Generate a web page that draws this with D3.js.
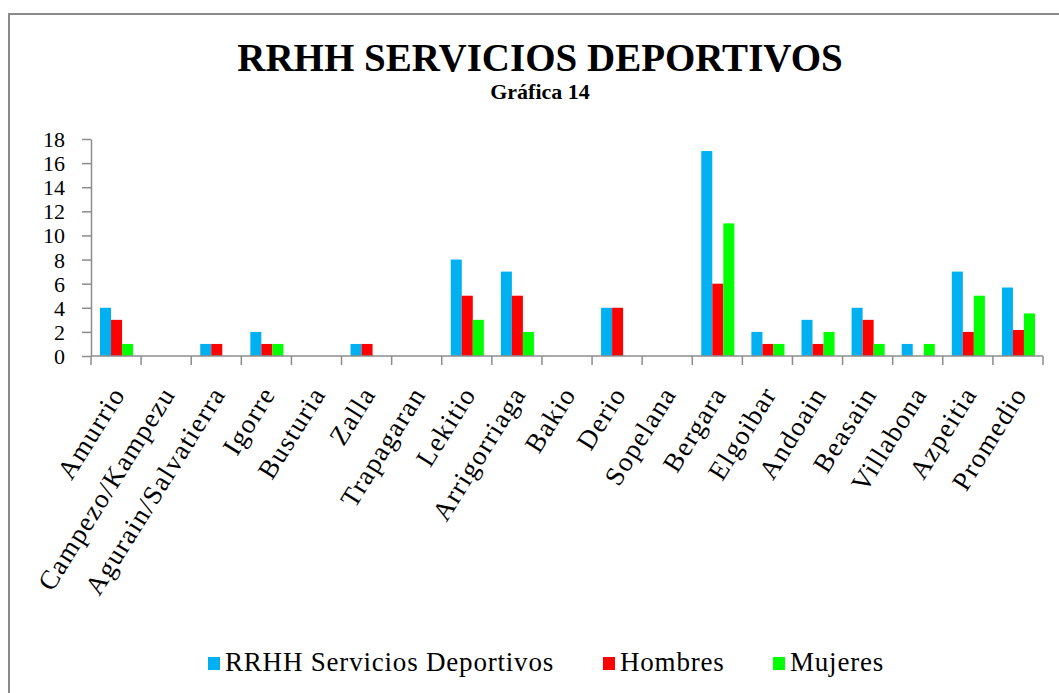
<!DOCTYPE html>
<html>
<head>
<meta charset="utf-8">
<script src="https://cdn.jsdelivr.net/npm/d3@7"></script>
<style>
  html, body { margin: 0; padding: 0; background: #fff; }
  svg { display: block; }
</style>
</head>
<body>
<svg id="chart" width="1059" height="693"></svg>
<script>
const categories = ["Amurrio", "Campezo/Kampezu", "Agurain/Salvatierra", "Igorre", "Busturia", "Zalla", "Trapagaran", "Lekitio", "Arrigorriaga", "Bakio", "Derio", "Sopelana", "Bergara", "Elgoibar", "Andoain", "Beasain", "Villabona", "Azpeitia", "Promedio"];
const seriesNames = ["RRHH Servicios Deportivos", "Hombres", "Mujeres"];
const rrhh    = [4, 0, 1, 2, 0, 1, 0, 8, 7, 0, 4, 0, 17, 2, 3, 4, 1, 7, 5.68];
const hombres = [3, 0, 1, 1, 0, 1, 0, 5, 5, 0, 4, 0, 6, 1, 1, 3, 0, 2, 2.16];
const mujeres = [1, 0, 0, 1, 0, 0, 0, 3, 2, 0, 0, 0, 11, 1, 2, 1, 1, 5, 3.53];
const yTicks = [0, 2, 4, 6, 8, 10, 12, 14, 16, 18];
const colors = ["#00B0F0", "#FF0000", "#00FF00"];
const titleText = "RRHH SERVICIOS DEPORTIVOS";
const subtitleText = "Gráfica 14";

const SERIF = "'Liberation Serif', 'Times New Roman', serif";
const svg = d3.select("#chart");
const plotL = 91, plotR = 1043, plotT = 139, plotB = 356;

// frame
svg.append("rect").attr("x", 9).attr("y", 14).attr("width", 1100).attr("height", 700)
  .attr("fill", "none").attr("stroke", "#8a8a8a").attr("stroke-width", 2);

// titles
svg.append("text").attr("x", 540).attr("y", 71).attr("text-anchor", "middle")
  .style("font-family", SERIF).style("font-size", "39px").style("font-weight", "bold").text(titleText);
svg.append("text").attr("x", 540).attr("y", 99).attr("text-anchor", "middle")
  .style("font-family", SERIF).style("font-size", "22px").style("font-weight", "bold").text(subtitleText);

const x0 = d3.scaleBand().domain(categories).range([plotL, plotR]).padding(0);
const bw = x0.bandwidth();
const x1 = d3.scaleBand().domain(seriesNames).range([bw * 0.18, bw * 0.84]).padding(0);
const y = d3.scaleLinear().domain([0, 18]).range([plotB, plotT]);

const data = categories.map((c, i) => ({ cat: c, vals: [rrhh[i], hombres[i], mujeres[i]] }));

// bars
const g = svg.append("g");
g.selectAll("g.cat").data(data).join("g").attr("class", "cat")
  .attr("transform", d => `translate(${x0(d.cat)},0)`)
  .selectAll("rect").data(d => d.vals.map((v, k) => ({ k, v })).filter(e => e.v > 0)).join("rect")
  .attr("x", e => x1(seriesNames[e.k]))
  .attr("width", x1.bandwidth())
  .attr("y", e => y(e.v))
  .attr("height", e => y(0) - y(e.v))
  .attr("fill", e => colors[e.k]);

// y axis
const yAxis = svg.append("g").attr("transform", `translate(${plotL},0)`)
  .call(d3.axisLeft(y).tickValues(yTicks).tickSize(9).tickPadding(17).tickSizeOuter(0));
yAxis.select(".domain").attr("stroke", "#8c8c8c").attr("stroke-width", 1.5);
yAxis.selectAll(".tick line").attr("stroke", "#8c8c8c").attr("stroke-width", 1.5);
yAxis.selectAll(".tick text").style("font-family", SERIF).style("font-size", "22px")
  .attr("fill", "#000").attr("dy", "0.34em");

// x axis line and ticks at band boundaries
const xg = svg.append("g");
xg.append("line").attr("x1", plotL).attr("x2", plotR).attr("y1", plotB).attr("y2", plotB)
  .attr("stroke", "#8c8c8c").attr("stroke-width", 1.5);
const bounds = categories.map(c => x0(c)).concat([plotR]);
xg.selectAll("line.t").data(bounds).join("line").attr("class", "t")
  .attr("x1", d => d).attr("x2", d => d).attr("y1", plotB).attr("y2", plotB + 9)
  .attr("stroke", "#8c8c8c").attr("stroke-width", 1.5);

// category labels
xg.selectAll("text.cl").data(categories).join("text").attr("class", "cl")
  .attr("transform", c => `translate(${x0(c) + bw / 2 + 10},394) rotate(-58)`)
  .attr("text-anchor", "end")
  .style("font-family", SERIF).style("font-size", "27px").style("letter-spacing", "1.4px")
  .text(c => c);

// legend
const legendItems = [
  { name: seriesNames[0], color: colors[0], x: 208 },
  { name: seriesNames[1], color: colors[1], x: 603 },
  { name: seriesNames[2], color: colors[2], x: 773 }
];
const lg = svg.append("g");
lg.selectAll("rect").data(legendItems).join("rect")
  .attr("x", d => d.x).attr("y", 657).attr("width", 12).attr("height", 13).attr("fill", d => d.color);
lg.selectAll("text").data(legendItems).join("text")
  .attr("x", d => d.x + 17).attr("y", 671)
  .style("font-family", SERIF).style("font-size", "27px").style("letter-spacing", "0.8px")
  .text(d => d.name);
</script>
</body>
</html>
